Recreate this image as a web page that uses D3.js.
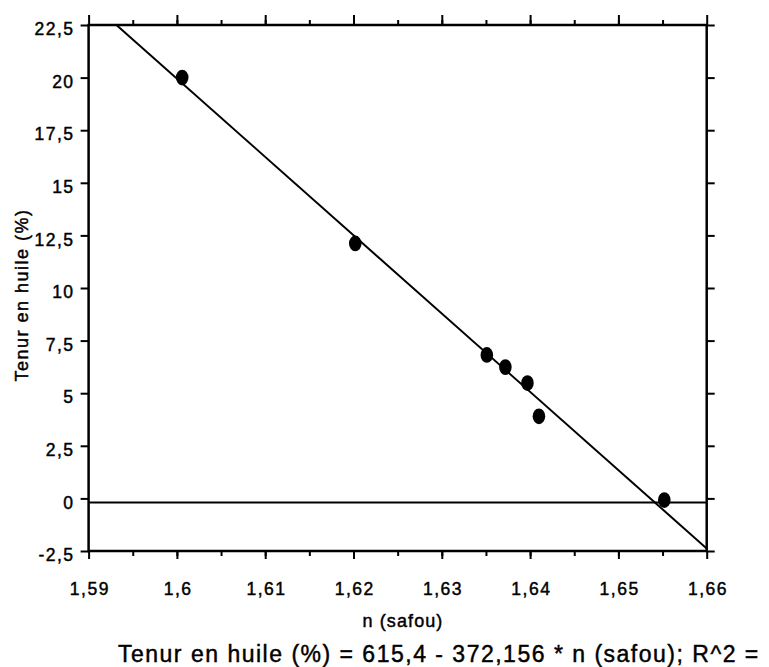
<!DOCTYPE html>
<html>
<head>
<meta charset="utf-8">
<script src="https://cdn.jsdelivr.net/npm/d3@7"></script>
<style>
  html, body { margin: 0; padding: 0; background: #fff; }
  svg { display: block; }
  svg text { font-family: "Liberation Sans", Arial, sans-serif; fill: #000; stroke: #000; stroke-width: 0.45px; }
</style>
</head>
<body>
<svg id="chart" width="769" height="667"></svg>
<script>
// Refractive index of safou vs oil content
const nSafou = [1.6006, 1.6202, 1.6351, 1.6372, 1.6397, 1.6410, 1.6552];
const tenurHuile = [20.0, 12.12, 6.82, 6.24, 5.48, 3.9, -0.08];
const xTicks = [1.59, 1.60, 1.61, 1.62, 1.63, 1.64, 1.65, 1.66];
const yTicks = [-2.5, 0, 2.5, 5, 7.5, 10, 12.5, 15, 17.5, 20, 22.5];
const fitIntercept = 615.4;
const fitSlope = -372.156;
const zeroLine = -0.2;

const svg = d3.select("#chart");
const W = 769, H = 667;
const m = { left: 88.6, right: W - 706.7, top: 25, bottom: H - 551 };

const x = d3.scaleLinear().domain([1.59, 1.66]).range([m.left, W - m.right]);
const y = d3.scaleLinear().domain([-2.5, 22.5]).range([H - m.bottom, m.top]);

const fmt = d => String(+d.toFixed(3)).replace(".", ",");
const minorX = d3.range(0, 14).map(i => 1.595 + i * 0.005).filter(v => v < 1.66);

// Plot-area clip for the zero line and the fit
svg.append("clipPath").attr("id", "clip").append("rect")
  .attr("x", x(1.59)).attr("y", y(22.5))
  .attr("width", x(1.66) - x(1.59)).attr("height", y(-2.5) - y(22.5));

const plot = svg.append("g").attr("clip-path", "url(#clip)");
plot.append("line")
  .attr("x1", x(1.59)).attr("x2", x(1.66))
  .attr("y1", y(zeroLine)).attr("y2", y(zeroLine))
  .attr("stroke", "#000").attr("stroke-width", 2);

const fitX = [1.59, 1.66];
plot.append("line")
  .attr("x1", x(fitX[0])).attr("y1", y(fitIntercept + fitSlope * fitX[0]))
  .attr("x2", x(fitX[1])).attr("y2", y(fitIntercept + fitSlope * fitX[1]))
  .attr("stroke", "#000").attr("stroke-width", 2);

// Data points
svg.append("g").selectAll("ellipse")
  .data(nSafou.map((n, i) => [n, tenurHuile[i]]))
  .join("ellipse")
  .attr("cx", d => x(d[0])).attr("cy", d => y(d[1]))
  .attr("rx", 6.3).attr("ry", 7.8).attr("fill", "#000");

// Axes
const axBottom = svg.append("g").attr("transform", `translate(0,${y(-2.5)})`)
  .call(d3.axisBottom(x).tickValues(xTicks).tickFormat(fmt).tickSize(8).tickPadding(24));
const axBottomMinor = svg.append("g").attr("transform", `translate(0,${y(-2.5)})`)
  .call(d3.axisBottom(x).tickValues(minorX).tickFormat("").tickSize(5));
const axTop = svg.append("g").attr("transform", `translate(0,${y(22.5)})`)
  .call(d3.axisTop(x).tickValues(xTicks).tickFormat("").tickSize(10));
const axTopMinor = svg.append("g").attr("transform", `translate(0,${y(22.5)})`)
  .call(d3.axisTop(x).tickValues(minorX).tickFormat("").tickSize(5));
const axLeft = svg.append("g").attr("transform", `translate(${x(1.59)},0)`)
  .call(d3.axisLeft(y).tickValues(yTicks).tickFormat(fmt).tickSize(8).tickPadding(6));
const axRight = svg.append("g").attr("transform", `translate(${x(1.66)},0)`)
  .call(d3.axisRight(y).tickValues(yTicks).tickFormat("").tickSize(8));

[axBottom, axBottomMinor, axTop, axTopMinor, axLeft, axRight].forEach(g => {
  g.attr("font-family", null).attr("font-size", null);
  g.select(".domain").remove();
  g.selectAll(".tick line").attr("stroke", "#000").attr("stroke-width", 2);
  g.selectAll(".tick text").attr("font-size", 17.5).attr("letter-spacing", 1.5);
});
axBottom.selectAll(".tick text").attr("dx", 0.75);
axLeft.selectAll(".tick text").attr("dy", "0.55em");

// Frame
svg.append("rect")
  .attr("x", x(1.59)).attr("y", y(22.5))
  .attr("width", x(1.66) - x(1.59)).attr("height", y(-2.5) - y(22.5))
  .attr("fill", "none").attr("stroke", "#000").attr("stroke-width", 2.5);

// Labels
svg.append("text").attr("x", 403).attr("y", 627)
  .attr("text-anchor", "middle").attr("font-size", 18).attr("letter-spacing", 1.1)
  .text("n (safou)");
svg.append("text").attr("transform", "translate(27.5,295) rotate(-90)")
  .attr("text-anchor", "middle").attr("font-size", 18).attr("letter-spacing", 1.5)
  .text("Tenur en huile (%)");
svg.append("text").attr("x", 118).attr("y", 662)
  .attr("font-size", 23).attr("letter-spacing", 1.5)
  .text("Tenur en huile (%) = 615,4 - 372,156 * n (safou); R^2 =");
</script>
</body>
</html>
